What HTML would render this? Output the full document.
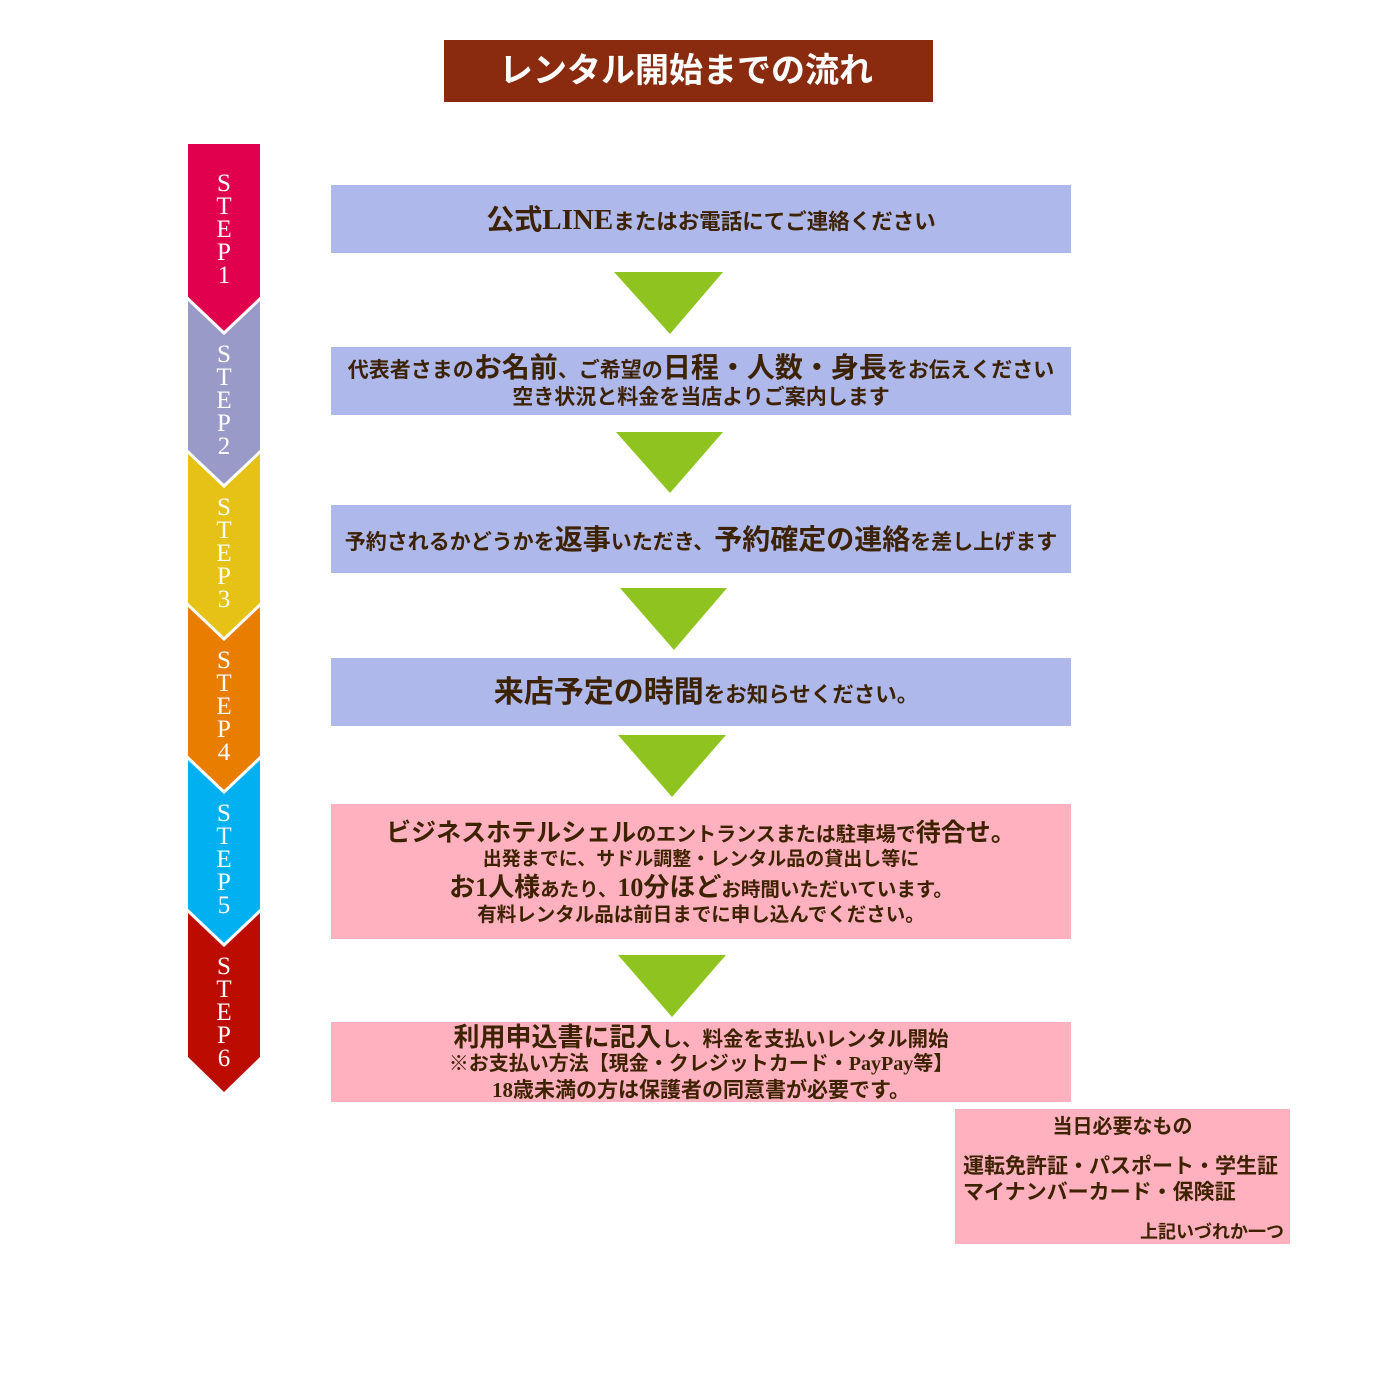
<!DOCTYPE html>
<html>
<head>
<meta charset="utf-8">
<style>
html,body{margin:0;padding:0;background:#fff;}
body{width:1400px;height:1400px;position:relative;overflow:hidden;font-family:"Liberation Sans","Noto Sans CJK JP",sans-serif;}
.abs{position:absolute;}
.box{position:absolute;left:331px;width:740px;}
.blue{background:#AEB8EA;}
.pink{background:#FFB1BF;}
.ln{position:absolute;left:331px;width:740px;text-align:center;white-space:nowrap;color:#3D2200;font-weight:700;font-family:"Liberation Sans","Noto Sans CJK JP",sans-serif;}
.sf{font-family:"Liberation Serif","Noto Serif CJK SC",serif;font-weight:700;}
.step{position:absolute;left:188px;width:72px;text-align:center;color:#fff;font-family:"Liberation Serif",serif;font-size:25px;line-height:23px;}
.side{position:absolute;white-space:nowrap;color:#3D2200;font-weight:700;}
</style>
</head>
<body>

<!-- Title -->
<div class="abs" style="left:444px;top:40px;width:489px;height:62px;background:#8A2A0E;"></div>
<div class="abs" style="left:444px;top:40px;width:484px;height:62px;line-height:62px;text-align:center;color:#fff;font-weight:700;font-size:34px;white-space:nowrap;">レンタル開始までの流れ</div>

<!-- Step column -->
<svg class="abs" style="left:0;top:0;" width="1400" height="1400" viewBox="0 0 1400 1400">
  <polygon points="188,144 260,144 260,297 224,332 188,297" fill="#E0004E"/>
  <polygon points="188,297 224,332 260,297 260,450 224,485 188,450" fill="#9A9AC8"/>
  <polygon points="188,450 224,485 260,450 260,603 224,638 188,603" fill="#E5C215"/>
  <polygon points="188,603 224,638 260,603 260,756 224,791 188,756" fill="#E87D00"/>
  <polygon points="188,756 224,791 260,756 260,909 224,944 188,909" fill="#00B0F0"/>
  <polygon points="188,909 224,944 260,909 260,1057 224,1092 188,1057" fill="#BC0C02"/>
  <g fill="none" stroke="#fff" stroke-width="3">
    <polyline points="186,297 224,333 262,297"/>
    <polyline points="186,450 224,486 262,450"/>
    <polyline points="186,603 224,639 262,603"/>
    <polyline points="186,756 224,792 262,756"/>
    <polyline points="186,909 224,945 262,909"/>
  </g>
  <!-- arrows -->
  <g fill="#8FC31F">
    <polygon points="614,272 723,272 670,334"/>
    <polygon points="616,432 723,432 670,493"/>
    <polygon points="620,588 727,588 674,650"/>
    <polygon points="618,735 726,735 672,797"/>
    <polygon points="618,955 726,955 672,1017"/>
  </g>
</svg>

<div class="step" style="top:172px;">S<br>T<br>E<br>P<br>1</div>
<div class="step" style="top:343px;">S<br>T<br>E<br>P<br>2</div>
<div class="step" style="top:496px;">S<br>T<br>E<br>P<br>3</div>
<div class="step" style="top:649px;">S<br>T<br>E<br>P<br>4</div>
<div class="step" style="top:802px;">S<br>T<br>E<br>P<br>5</div>
<div class="step" style="top:955px;">S<br>T<br>E<br>P<br>6</div>

<!-- Boxes -->
<div class="box blue" style="top:185px;height:68px;"></div>
<div class="box blue" style="top:347px;height:68px;"></div>
<div class="box blue" style="top:505px;height:68px;"></div>
<div class="box blue" style="top:658px;height:68px;"></div>
<div class="box pink" style="top:804px;height:135px;"></div>
<div class="box pink" style="top:1022px;height:80px;"></div>
<div class="abs pink" style="left:955px;top:1109px;width:335px;height:135px;"></div>

<!-- Box1 -->
<div class="ln" style="top:202px;left:341px;line-height:36px;font-size:21.5px;"><span style="font-size:28px;">公式</span><span class="sf" style="font-size:29px;">LINE</span>またはお電話にてご連絡ください</div>

<!-- Box2 -->
<div class="ln" style="top:352px;line-height:32px;font-size:21px;">代表者さまの<span style="font-size:28px;">お名前</span>、ご希望の<span style="font-size:28px;">日程・人数・身長</span>をお伝えください</div>
<div class="ln" style="top:384px;line-height:28px;font-size:21px;">空き状況と料金を当店よりご案内します</div>

<!-- Box3 -->
<div class="ln" style="top:522px;line-height:36px;font-size:21px;">予約されるかどうかを<span style="font-size:28px;">返事</span>いただき、<span style="font-size:28px;">予約確定の連絡</span>を差し上げます</div>

<!-- Box4 -->
<div class="ln" style="top:675px;left:336px;line-height:36px;font-size:21.5px;"><span style="font-size:30px;">来店予定の時間</span>をお知らせください。</div>

<!-- Box5 -->
<div class="ln" style="top:818px;line-height:30px;font-size:20px;"><span style="font-size:25px;">ビジネスホテルシェル</span>のエントランスまたは駐車場で<span style="font-size:25px;">待合せ。</span></div>
<div class="ln" style="top:847px;line-height:26px;font-size:19px;">出発までに、サドル調整・レンタル品の貸出し等に</div>
<div class="ln" style="top:872px;line-height:30px;font-size:19.5px;"><span style="font-size:26px;">お<span class="sf">1</span>人様</span>あたり、<span style="font-size:26px;"><span class="sf">10</span>分ほど</span>お時間いただいています。</div>
<div class="ln" style="top:902px;line-height:26px;font-size:19.5px;">有料レンタル品は前日までに申し込んでください。</div>

<!-- Box6 -->
<div class="ln" style="top:1022px;line-height:30px;font-size:20.5px;"><span style="font-size:26px;">利用申込書に記入</span>し、料金を支払いレンタル開始</div>
<div class="ln" style="top:1051px;line-height:26px;font-size:20px;">※お支払い方法【現金・クレジットカード・<span class="sf">PayPay</span>等】</div>
<div class="ln" style="top:1077px;line-height:26px;font-size:21px;"><span class="sf">18</span>歳未満の方は保護者の同意書が必要です。</div>

<!-- Side box -->
<div class="side" style="left:955px;top:1114px;width:335px;text-align:center;font-size:20px;line-height:26px;">当日必要なもの</div>
<div class="side" style="left:963px;top:1153px;font-size:21px;line-height:28px;">運転免許証・パスポート・学生証</div>
<div class="side" style="left:963px;top:1179px;font-size:21px;line-height:28px;">マイナンバーカード・保険証</div>
<div class="side" style="left:955px;top:1220px;width:329px;text-align:right;font-size:18px;line-height:24px;">上記いづれか一つ</div>

</body>
</html>
